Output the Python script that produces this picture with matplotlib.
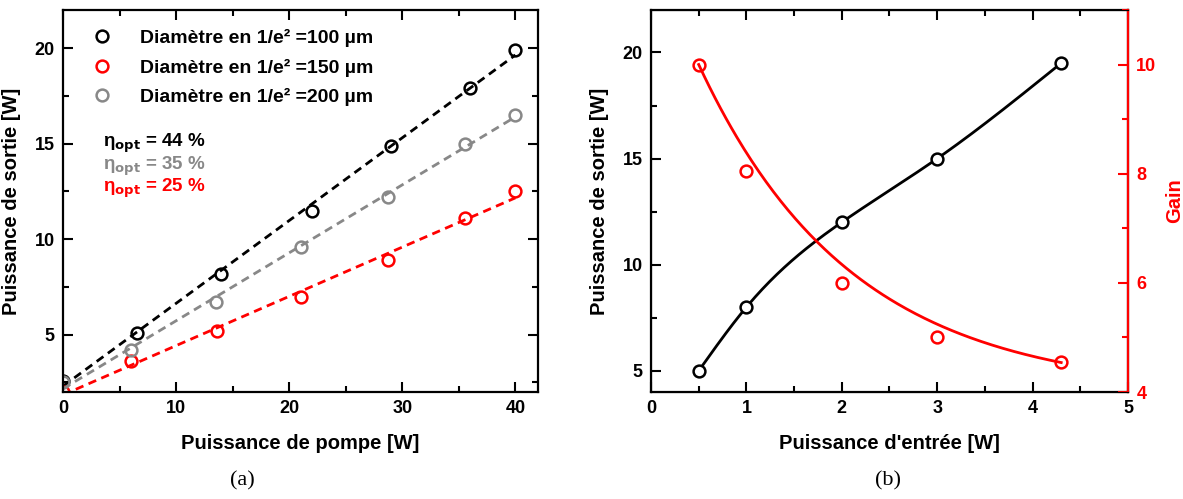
import numpy as np
import matplotlib
matplotlib.use("Agg")
import matplotlib.pyplot as plt
from matplotlib.ticker import MultipleLocator

# --- data, panel (a) ---
pump_100 = [0, 6.5, 14, 22, 29, 36, 40]
out_100 = [2.6, 5.1, 8.2, 11.5, 14.9, 17.9, 19.9]
pump_150 = [0, 6, 13.6, 21, 28.7, 35.5, 40]
out_150 = [2.0, 3.6, 5.2, 7.0, 8.9, 11.1, 12.5]
pump_200 = [0, 6, 13.5, 21, 28.7, 35.5, 40]
out_200 = [2.5, 4.2, 6.7, 9.6, 12.2, 15.0, 16.5]
legend_labels = ["Diamètre en 1/e² =100 µm", "Diamètre en 1/e² =150 µm",
                 "Diamètre en 1/e² =200 µm"]
eta_labels = ["44 %", "35 %", "25 %"]

# --- data, panel (b) ---
p_in = [0.5, 1, 2, 3, 4.3]
p_out = [5, 8, 12, 15, 19.5]
gain = [10, 8.05, 6.0, 5.0, 4.55]
# exponential decay fit drawn in the original: A + B*exp(-x/t)
gain_fit_A = 3.98
gain_fit_B = 8.23
gain_fit_t = 1.6

RED = "#ff0000"
GREY = "#888888"
plt.rcParams["font.family"] = ["Liberation Sans", "DejaVu Sans"]
plt.rcParams["font.weight"] = "bold"
plt.rcParams["mathtext.fontset"] = "dejavusans"

LABEL_FS = 14.5


def style_axes(ax, right=True):
    ax.tick_params(which="both", direction="in", top=True, right=right,
                   width=1.5, labelsize=13, pad=6)
    ax.tick_params(which="major", length=7)
    ax.tick_params(which="minor", length=4)
    for s in ax.spines.values():
        s.set_linewidth(1.6)
    for lab in ax.get_xticklabels() + ax.get_yticklabels():
        lab.set_fontweight("bold")


def natural_spline(x, y, xs):
    # simple natural cubic spline (no scipy)
    x = np.asarray(x, float); y = np.asarray(y, float)
    n = len(x)
    h = np.diff(x)
    A = np.zeros((n, n)); r = np.zeros(n)
    A[0, 0] = A[-1, -1] = 1
    for i in range(1, n - 1):
        A[i, i - 1] = h[i - 1]; A[i, i] = 2 * (h[i - 1] + h[i]); A[i, i + 1] = h[i]
        r[i] = 3 * ((y[i + 1] - y[i]) / h[i] - (y[i] - y[i - 1]) / h[i - 1])
    c = np.linalg.solve(A, r)
    b = (y[1:] - y[:-1]) / h - h * (2 * c[:-1] + c[1:]) / 3
    d = (c[1:] - c[:-1]) / (3 * h)
    idx = np.clip(np.searchsorted(x, xs) - 1, 0, n - 2)
    dx = xs - x[idx]
    return y[idx] + b[idx] * dx + c[idx] * dx ** 2 + d[idx] * dx ** 3


fig = plt.figure(figsize=(11.83, 4.99), dpi=100)

# ---------------- panel (a) ----------------
ax1 = fig.add_axes([0.0533, 0.2144, 0.4015, 0.7655])
series = [(pump_100, out_100, "black"), (pump_150, out_150, RED), (pump_200, out_200, GREY)]
xl = np.linspace(0, 40, 50)
for (px, py, col), lab in zip(series, legend_labels):
    k, b0 = np.polyfit(px, py, 1)
    ax1.plot(xl, k * xl + b0, ls=(0, (3, 2)), color=col, lw=2)
    ax1.plot(px, py, "o", mfc="none", mec=col, ms=8.5, mew=1.8, label=lab)
ax1.set_xlim(0, 42)
ax1.set_ylim(2, 22)
ax1.xaxis.set_major_locator(MultipleLocator(10))
ax1.xaxis.set_minor_locator(MultipleLocator(5))
ax1.yaxis.set_major_locator(MultipleLocator(5))
ax1.yaxis.set_minor_locator(MultipleLocator(2.5))
style_axes(ax1)
ax1.set_xlabel("Puissance de pompe [W]", fontsize=LABEL_FS, fontweight="bold", labelpad=12)
ax1.set_ylabel("Puissance de sortie [W]", fontsize=LABEL_FS, fontweight="bold", labelpad=10)
ax1.legend(loc="upper left", bbox_to_anchor=(0.062, 0.95), frameon=False,
           borderpad=0, borderaxespad=0, handlelength=1.0,
           handletextpad=1.45, labelspacing=0.58,
           prop={"size": 14, "weight": "bold"})

for i, (lab, col) in enumerate(zip(eta_labels, ["black", GREY, RED])):
    ax1.text(0.084, 0.651 - i * 0.059,
             r"$\mathregular{\eta}_{\mathbf{opt}}$" + " = " + lab,
             transform=ax1.transAxes, color=col, fontsize=13.5,
             fontweight="bold", va="center")

# ---------------- panel (b) ----------------
ax2 = fig.add_axes([0.5503, 0.2144, 0.4032, 0.7655])
xs = np.linspace(min(p_in), max(p_in), 200)
ax2.plot(xs, natural_spline(p_in, p_out, xs), color="black", lw=2)
ax2.plot(p_in, p_out, "o", mfc="white", mec="black", ms=8.5, mew=1.8)
ax2.set_xlim(0, 5)
ax2.set_ylim(4, 22)
ax2.xaxis.set_major_locator(MultipleLocator(1))
ax2.xaxis.set_minor_locator(MultipleLocator(0.5))
ax2.yaxis.set_major_locator(MultipleLocator(5))
ax2.yaxis.set_minor_locator(MultipleLocator(2.5))
style_axes(ax2, right=False)
ax2.set_xlabel("Puissance d'entrée [W]", fontsize=LABEL_FS, fontweight="bold", labelpad=12)
ax2.set_ylabel("Puissance de sortie [W]", fontsize=LABEL_FS, fontweight="bold", labelpad=10)

ax3 = ax2.twinx()
ax3.plot(xs, gain_fit_A + gain_fit_B * np.exp(-xs / gain_fit_t), color=RED, lw=2)
ax3.plot(p_in, gain, "o", mfc="none", mec=RED, ms=8.5, mew=1.8)
ax3.set_ylim(4, 11)
ax3.yaxis.set_major_locator(MultipleLocator(2))
ax3.yaxis.set_minor_locator(MultipleLocator(1))
ax3.tick_params(which="both", direction="in", colors=RED, width=1.5,
                labelsize=13, pad=6)
ax3.tick_params(which="major", length=7)
ax3.tick_params(which="minor", length=4)
for lab in ax3.get_yticklabels():
    lab.set_fontweight("bold")
ax3.spines["right"].set_color(RED)
ax3.spines["right"].set_linewidth(1.6)
ax3.set_ylabel("Gain", color=RED, fontsize=LABEL_FS, fontweight="bold", labelpad=6)

fig.text(0.2046, 0.028, "(a)", family="Liberation Serif", fontsize=16,
         fontweight="normal", ha="center")
fig.text(0.7506, 0.028, "(b)", family="Liberation Serif", fontsize=16,
         fontweight="normal", ha="center")

fig.savefig("out.png", dpi=100)
